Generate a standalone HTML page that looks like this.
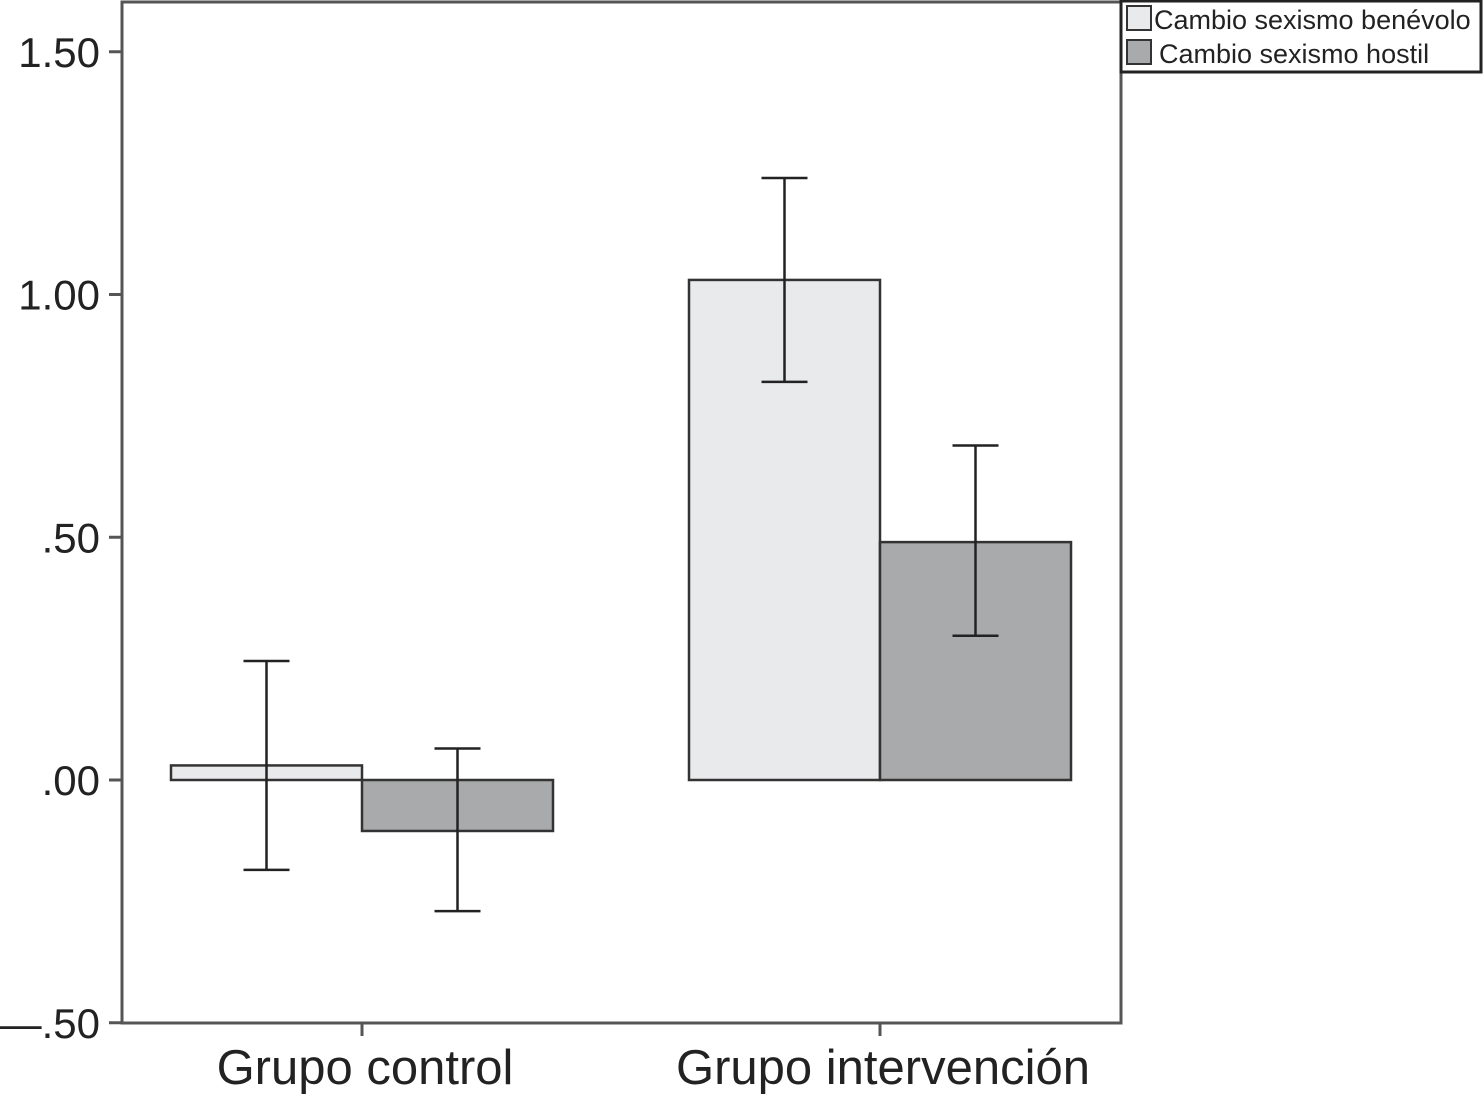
<!DOCTYPE html>
<html><head><meta charset="utf-8"><style>
html,body{margin:0;padding:0;background:#fff;}
svg{display:block;font-family:"Liberation Sans",sans-serif;}
</style></head><body>
<svg id="chart" width="1483" height="1094" viewBox="0 0 1483 1094" xmlns="http://www.w3.org/2000/svg">
<rect x="122" y="2" width="999" height="1021" fill="#fff" stroke="#555" stroke-width="3"/>
<g id="marks"></g>
<g id="axes"></g>
<g>
<rect x="1121" y="1" width="360" height="71" fill="#fff" stroke="#222" stroke-width="3"/>
<rect x="1127" y="6" width="24" height="24" fill="#e9eaec" stroke="#333" stroke-width="2"/>
<text x="1154" y="29" font-size="27" fill="#222">Cambio sexismo benévolo</text>
<rect x="1127" y="40" width="24" height="24" fill="#a9aaab" stroke="#333" stroke-width="2"/>
<text x="1159" y="63" font-size="27" fill="#222">Cambio sexismo hostil</text>
</g>
</svg>
<script>
const categories = ["Grupo control", "Grupo intervención"];
const benevolo = [0.03, 1.03];
const benevoloLow = [-0.185, 0.82];
const benevoloHigh = [0.245, 1.24];
const hostil = [-0.105, 0.49];
const hostilLow = [-0.27, 0.297];
const hostilHigh = [0.065, 0.689];
const yTicks = [-0.5, 0, 0.5, 1.0, 1.5];
const yTickLabels = ["—.50", ".00", ".50", "1.00", "1.50"];

const NS = "http://www.w3.org/2000/svg";
const y = v => 780 - v * 485.5;
const groupCenter = i => 362 + i * 518;
const barW = 191;
function mk(tag, attrs, parent){ const e=document.createElementNS(NS,tag); for(const k in attrs) e.setAttribute(k,attrs[k]); parent.appendChild(e); return e; }
const marks = document.getElementById('marks');
const axes = document.getElementById('axes');
const series = [
  {vals:benevolo, lo:benevoloLow, hi:benevoloHigh, fill:"#e9eaec", off:-barW, name:"benevolo"},
  {vals:hostil, lo:hostilLow, hi:hostilHigh, fill:"#a9aaab", off:0, name:"hostil"}
];
series.forEach(s=>{
  categories.forEach((c,i)=>{
    const x = groupCenter(i) + s.off;
    const y0 = y(0), y1 = y(s.vals[i]);
    const r = mk('rect',{x:x,y:Math.min(y0,y1),width:barW,height:Math.abs(y1-y0),fill:s.fill,stroke:"#333","stroke-width":2.5},marks);
    
    
    const cx = x + barW/2;
    const g = mk('g',{stroke:"#222","stroke-width":2.5},marks);
    
    
    mk('line',{x1:cx,x2:cx,y1:y(s.lo[i]),y2:y(s.hi[i])},g);
    mk('line',{x1:cx-23,x2:cx+23,y1:y(s.lo[i]),y2:y(s.lo[i])},g);
    mk('line',{x1:cx-23,x2:cx+23,y1:y(s.hi[i]),y2:y(s.hi[i])},g);
  });
});
yTicks.forEach((t,i)=>{
  const l = mk('line',{x1:109,x2:122,y1:y(t),y2:y(t),stroke:"#555","stroke-width":3},axes);
  
  
  const tx = mk('text',{x:100,y:y(t)+15,"text-anchor":"end","font-size":42,fill:"#222"},axes);
  tx.textContent = yTickLabels[i];
  
  
});
categories.forEach((c,i)=>{
  const x = groupCenter(i);
  const l = mk('line',{x1:x,x2:x,y1:1023,y2:1036,stroke:"#555","stroke-width":3},axes);
  
  
  const tx = mk('text',{x:x+3,y:1084,"text-anchor":"middle","font-size":49,fill:"#222"},axes);
  tx.textContent = c;
  
  
});
</script>
</body></html>
